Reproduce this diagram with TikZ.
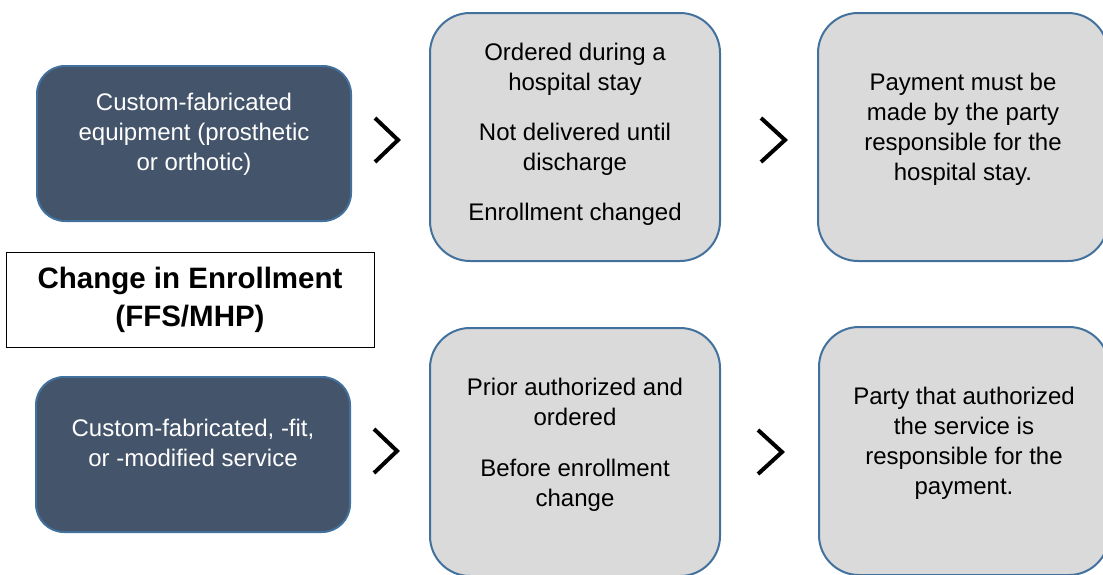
\documentclass[tikz,border=0pt]{standalone}
\usepackage{fontspec}
\setmainfont{Liberation Sans}
\usetikzlibrary{positioning}
\definecolor{slate}{HTML}{44546A}
\definecolor{edgeblue}{HTML}{41719C}
\definecolor{panel}{HTML}{DADADA}

\begin{document}
\begin{tikzpicture}[
    x=1pt, y=-1pt,
    darkbox/.style={draw=edgeblue, line width=2pt, fill=slate, rounded corners=28pt, minimum width=314pt, minimum height=155pt},
    greybox/.style={draw=edgeblue, line width=2pt, fill=panel, rounded corners=40pt, minimum width=290pt, minimum height=248pt},
    txt/.style={align=center, inner sep=0pt, font=\fontsize{24}{30}\selectfont},
    chev/.style={draw=black, line width=4pt}
]
\useasboundingbox (0,0) rectangle (1103,574);

% Left column
\node[darkbox] (equip) at (194,143.5) {};
\node[txt, text=white] (equipt) at ([yshift=9pt]equip.center) {Custom-fabricated\\equipment (prosthetic\\or orthotic)};

\node[draw=black, line width=1pt, fill=white, minimum width=368pt, minimum height=95pt, align=center,
      font=\fontsize{29.5}{38}\selectfont\bfseries] (title) at (190,299.5) {Change in Enrollment\\(FFS/MHP)};

\node[darkbox] (serv) at (193,454.5) {};
\node[txt, text=white] (servt) at ([yshift=11.5pt]serv.center) {Custom-fabricated, -fit,\\or -modified service};

% Conditions
\node[greybox] (hosp) at (575,137) {};
\node[txt] (hospt) at ([yshift=2.5pt]hosp.center) {Ordered during a\\hospital stay\\[20pt]Not delivered until\\discharge\\[20pt]Enrollment changed};

\node[greybox] (prior) at (575,452) {};
\node[txt] (priort) at ([yshift=7.5pt]prior.center) {Prior authorized and\\ordered\\[21pt]Before enrollment\\change};

% Results
\node[greybox] (pay) at (963,137) {};
\node[txt] (payt) at ([yshift=8pt]pay.center) {Payment must be\\made by the party\\responsible for the\\hospital stay.};

\node[greybox] (party) at (964,451) {};
\node[txt] (partyt) at ([yshift=8pt]party.center) {Party that authorized\\the service is\\responsible for the\\payment.};

% Chevrons
\draw[chev] (375,118) -- ++(23,22) -- ++(-23,22);
\draw[chev] (761,118) -- ++(24,22) -- ++(-24,22);
\draw[chev] (374,429) -- ++(23,22) -- ++(-23,22);
\draw[chev] (758,430) -- ++(24,22) -- ++(-24,22);

\end{tikzpicture}
\end{document}
